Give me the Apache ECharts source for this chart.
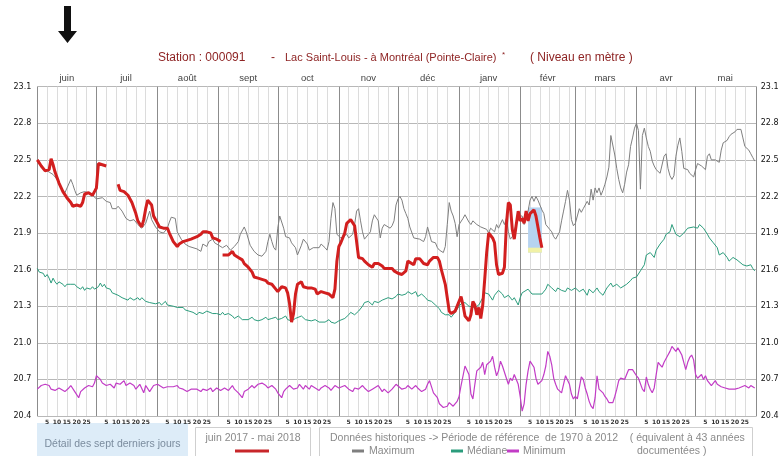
<!DOCTYPE html>
<html><head><meta charset="utf-8">
<script src="https://cdn.jsdelivr.net/npm/echarts@6/dist/echarts.min.js"></script>
<style>html,body{margin:0;padding:0;background:#fff}#c{width:782px;height:456px}</style>
</head><body><div id="c"></div>
<script>
// ---- categories / ticks ----
const monthNames = ['juin','juil','août','sept','oct','nov','déc','janv','févr','mars','avr','mai'];
const monthLengths = [30,31,31,30,31,30,31,31,28,31,30,31];
const dayTickLabels = [5,10,15,20,25];
const yMin = 20.4, yMax = 23.1, yStep = 0.3;

// ---- juin 2017 - mai 2018 (current year, day index from 1 June) ----
const currentSeg1 = [[0,22.50],[2,22.45],[4,22.41],[6,22.42],[7,22.51],[8,22.46],[9,22.40],[11,22.31],[13,22.24],[15,22.19],[17,22.15],[18,22.12],[20,22.13],[22,22.12],[23,22.15],[24,22.22],[26,22.23],[28,22.21],[29,22.24],[30,22.27],[31,22.47],[32,22.48],[33,22.46],[35,22.45]];
const currentSeg2 = [[41,22.30],[42,22.25],[44,22.24],[46,22.21],[48,22.15],[50,22.06],[51,22.00],[53,21.95],[54,22.01],[55,22.10],[56,22.17],[58,22.13],[59,22.04],[61,21.98],[62,21.95],[64,21.94],[66,21.94],[67,21.90],[69,21.83],[71,21.79],[72,21.81],[74,21.83],[76,21.84],[78,21.85],[79,21.86],[81,21.87],[83,21.89],[84,21.91],[86,21.91],[88,21.90],[89,21.86],[91,21.85],[93,21.83]];
const currentSeg3 = [[94,21.72],[97,21.72],[99,21.75],[100,21.72],[102,21.70],[104,21.68],[105,21.65],[107,21.62],[109,21.58],[110,21.54],[112,21.53],[114,21.52],[116,21.51],[117,21.49],[119,21.48],[121,21.44],[122,21.42],[124,21.46],[126,21.45],[127,21.41],[128,21.32],[129,21.17],[130,21.24],[131,21.40],[132,21.48],[134,21.50],[135,21.46],[137,21.45],[139,21.45],[141,21.44],[142,21.40],[144,21.42],[146,21.41],[148,21.40],[150,21.37],[151,21.44],[152,21.67],[153,21.79],[154,21.82],[156,21.90],[157,21.98],[159,22.01],[160,22.00],[161,21.96],[162,21.83],[163,21.70],[165,21.69],[166,21.67],[168,21.64],[170,21.62],[171,21.65],[173,21.65],[175,21.63],[176,21.61],[178,21.61],[180,21.61],[181,21.59],[183,21.57],[185,21.56],[187,21.59],[188,21.67],[189,21.67],[191,21.64],[192,21.69],[194,21.69],[196,21.65],[198,21.64],[199,21.67],[201,21.70],[203,21.70],[204,21.67],[205,21.60],[207,21.48],[208,21.37],[209,21.26],[210,21.24],[212,21.26],[213,21.25],[214,21.34],[215,21.38],[216,21.31],[217,21.22],[219,21.18],[220,21.23],[221,21.34],[222,21.31],[223,21.23],[224,21.29],[225,21.20],[226,21.31],[227,21.52],[228,21.74],[229,21.90],[230,21.90],[231,21.86],[232,21.82],[233,21.64],[234,21.56],[235,21.55],[236,21.57],[237,21.62],[238,21.97],[239,22.15],[240,22.13],[241,21.93],[242,21.85],[243,21.97],[244,22.08],[245,22.00],[246,22.02],[247,21.98],[248,22.08],[249,22.00],[250,22.06],[251,22.05],[252,22.09],[253,22.04],[254,21.95],[255,21.86],[256,21.78]];

// ---- Détail des sept derniers jours ----
const detailDays = [249, 256];
const detailRange = [21.74, 22.11];
const detailYellowTop = 21.78;

// ---- historical 1970-2012 ----
const maxLevel = [[0,22.50],[2,22.45],[4,22.42],[6,22.40],[8,22.38],[10,22.34],[12,22.27],[14,22.23],[15,22.24],[17,22.34],[18,22.30],[19,22.25],[20,22.21],[22,22.23],[24,22.24],[26,22.23],[28,22.21],[30,22.18],[31,22.17],[33,22.19],[35,22.16],[37,22.15],[38,22.10],[40,22.10],[41,22.12],[43,22.08],[45,22.02],[47,22.00],[49,22.01],[51,21.97],[53,21.94],[55,21.98],[57,22.08],[58,22.01],[60,21.95],[62,21.91],[64,21.90],[66,21.94],[67,21.99],[68,22.03],[70,22.02],[71,21.91],[73,21.85],[75,21.81],[77,21.79],[79,21.78],[81,21.77],[83,21.75],[84,21.81],[86,21.79],[87,21.83],[89,21.85],[90,21.82],[92,21.80],[94,21.78],[96,21.80],[98,21.76],[100,21.79],[102,21.83],[103,21.89],[105,21.95],[106,21.91],[108,21.80],[110,21.75],[112,21.72],[114,21.71],[116,21.75],[117,21.83],[118,21.89],[119,21.83],[120,21.78],[121,21.76],[122,21.94],[123,22.04],[125,21.94],[126,21.87],[128,21.86],[129,21.82],[131,21.78],[132,21.72],[134,21.80],[135,21.85],[137,21.81],[138,21.76],[140,21.78],[141,21.79],[143,21.78],[144,21.81],[146,21.78],[147,21.76],[148,21.83],[149,22.02],[150,22.15],[151,22.10],[152,21.89],[154,21.86],[155,21.87],[157,21.89],[158,21.86],[160,21.89],[161,21.97],[162,22.08],[163,22.10],[164,22.00],[165,21.91],[166,21.85],[168,21.89],[169,21.91],[170,22.00],[171,22.05],[172,22.06],[173,22.00],[174,21.86],[175,21.94],[176,21.97],[177,21.96],[179,21.94],[180,21.96],[181,22.00],[182,22.13],[183,22.18],[184,22.20],[185,22.17],[186,22.10],[187,22.06],[188,22.02],[189,21.95],[191,21.86],[192,21.85],[194,21.85],[196,21.83],[197,21.87],[198,21.95],[199,21.89],[200,21.83],[202,21.82],[203,21.78],[204,21.76],[206,21.74],[207,21.79],[208,21.97],[209,22.15],[210,22.08],[211,22.04],[212,21.98],[213,21.87],[214,21.97],[215,21.98],[216,22.02],[217,22.05],[219,21.99],[220,21.97],[221,22.00],[223,21.97],[225,21.95],[226,21.94],[228,21.93],[229,21.90],[230,21.94],[232,21.91],[233,21.97],[234,21.94],[236,22.01],[237,21.97],[238,22.02],[239,21.91],[240,21.85],[241,21.87],[243,21.97],[244,22.04],[245,22.05],[246,22.04],[247,21.97],[249,22.08],[250,22.17],[251,22.20],[252,22.16],[253,22.20],[254,22.17],[256,22.09],[257,22.06],[258,21.97],[260,21.93],[261,21.91],[262,21.87],[263,21.85],[265,21.91],[266,22.00],[267,22.08],[268,22.16],[269,22.25],[270,22.17],[271,22.01],[272,21.96],[273,21.98],[274,22.04],[275,22.10],[276,22.07],[277,22.10],[278,22.09],[279,22.16],[280,22.13],[281,22.26],[282,22.17],[283,22.27],[284,22.23],[285,22.27],[286,22.21],[287,22.25],[288,22.30],[289,22.36],[290,22.44],[291,22.70],[292,22.71],[293,22.54],[294,22.43],[295,22.34],[296,22.27],[297,22.23],[298,22.30],[299,22.40],[300,22.46],[301,22.61],[302,22.68],[303,22.76],[304,22.80],[305,22.74],[306,22.26],[307,22.70],[308,22.76],[309,22.68],[310,22.61],[311,22.57],[312,22.49],[313,22.45],[314,22.42],[315,22.41],[316,22.39],[317,22.38],[318,22.53],[319,22.55],[320,22.43],[321,22.37],[322,22.34],[323,22.37],[324,22.53],[325,22.62],[326,22.68],[327,22.57],[328,22.43],[329,22.42],[330,22.42],[331,22.39],[332,22.39],[333,22.36],[334,22.42],[335,22.47],[336,22.48],[337,22.45],[338,22.46],[339,22.42],[340,22.53],[341,22.55],[342,22.50],[343,22.49],[344,22.50],[345,22.49],[346,22.48],[347,22.58],[348,22.64],[349,22.65],[350,22.66],[351,22.69],[352,22.71],[353,22.70],[354,22.73],[355,22.75],[356,22.76],[357,22.75],[358,22.68],[359,22.61],[360,22.60],[361,22.58],[362,22.55],[363,22.52],[364,22.49]];
const medianLevel = [[0,21.61],[1,21.58],[3,21.57],[4,21.54],[5,21.56],[6,21.53],[7,21.49],[8,21.53],[9,21.50],[10,21.48],[11,21.50],[13,21.48],[14,21.46],[15,21.48],[17,21.48],[18,21.49],[19,21.48],[20,21.46],[22,21.44],[23,21.46],[24,21.43],[25,21.45],[27,21.44],[28,21.46],[29,21.44],[31,21.46],[32,21.49],[33,21.46],[34,21.48],[35,21.45],[37,21.44],[38,21.41],[39,21.42],[41,21.39],[42,21.40],[43,21.37],[44,21.38],[46,21.35],[47,21.37],[48,21.36],[49,21.35],[51,21.37],[52,21.35],[53,21.37],[55,21.34],[56,21.35],[57,21.33],[58,21.34],[60,21.32],[61,21.31],[62,21.33],[63,21.31],[65,21.34],[66,21.31],[67,21.31],[69,21.30],[70,21.29],[71,21.29],[72,21.28],[74,21.29],[75,21.27],[76,21.26],[77,21.26],[79,21.25],[80,21.26],[81,21.23],[82,21.25],[84,21.24],[85,21.25],[86,21.26],[87,21.25],[89,21.24],[90,21.23],[91,21.24],[93,21.23],[94,21.25],[95,21.23],[97,21.24],[99,21.22],[100,21.20],[102,21.22],[104,21.19],[105,21.20],[107,21.19],[109,21.21],[110,21.19],[112,21.18],[114,21.19],[116,21.21],[117,21.19],[119,21.20],[121,21.21],[122,21.19],[124,21.20],[126,21.22],[127,21.19],[129,21.18],[131,21.20],[132,21.19],[134,21.22],[136,21.19],[137,21.20],[139,21.18],[141,21.19],[143,21.17],[144,21.18],[146,21.17],[148,21.19],[149,21.17],[151,21.16],[153,21.18],[154,21.19],[156,21.20],[158,21.23],[159,21.25],[161,21.23],[163,21.26],[165,21.30],[166,21.33],[168,21.34],[170,21.31],[171,21.34],[173,21.33],[175,21.35],[176,21.34],[178,21.37],[180,21.36],[182,21.38],[183,21.40],[185,21.39],[187,21.40],[188,21.42],[190,21.40],[192,21.42],[193,21.38],[195,21.40],[197,21.37],[198,21.35],[200,21.34],[202,21.31],[204,21.28],[205,21.25],[207,21.23],[209,21.23],[210,21.21],[212,21.25],[214,21.30],[215,21.32],[217,21.33],[219,21.30],[220,21.31],[222,21.29],[224,21.31],[226,21.37],[227,21.41],[229,21.40],[231,21.35],[232,21.39],[234,21.43],[236,21.40],[237,21.37],[239,21.39],[241,21.35],[242,21.37],[244,21.31],[245,21.37],[246,21.41],[247,21.40],[249,21.44],[251,21.40],[253,21.40],[254,21.41],[256,21.40],[258,21.44],[259,21.48],[261,21.45],[263,21.42],[264,21.45],[266,21.43],[268,21.42],[269,21.45],[271,21.43],[273,21.45],[274,21.46],[275,21.42],[277,21.44],[279,21.39],[280,21.44],[282,21.41],[284,21.45],[285,21.42],[287,21.39],[289,21.45],[291,21.49],[292,21.46],[294,21.48],[296,21.45],[297,21.46],[299,21.48],[301,21.51],[302,21.53],[304,21.54],[306,21.59],[308,21.64],[309,21.72],[311,21.74],[313,21.70],[314,21.76],[316,21.81],[318,21.85],[319,21.89],[321,21.91],[322,21.97],[323,21.93],[324,21.89],[326,21.87],[328,21.90],[330,21.94],[331,21.93],[333,21.95],[335,21.94],[336,21.97],[338,21.94],[340,21.89],[341,21.86],[343,21.82],[345,21.78],[346,21.72],[348,21.74],[350,21.70],[351,21.67],[353,21.70],[355,21.68],[356,21.67],[358,21.64],[360,21.63],[362,21.64],[363,21.61],[364,21.59]];
const minLevel = [[0,20.62],[2,20.65],[4,20.66],[6,20.65],[7,20.62],[9,20.61],[11,20.63],[12,20.62],[14,20.60],[16,20.63],[17,20.65],[19,20.60],[21,20.55],[22,20.60],[24,20.63],[26,20.65],[28,20.64],[29,20.67],[30,20.73],[32,20.70],[33,20.67],[35,20.65],[37,20.66],[39,20.63],[40,20.67],[42,20.66],[44,20.69],[45,20.65],[47,20.67],[49,20.65],[50,20.62],[52,20.66],[54,20.59],[55,20.65],[57,20.60],[59,20.65],[61,20.66],[62,20.65],[64,20.63],[66,20.64],[67,20.63],[69,20.64],[71,20.65],[72,20.63],[74,20.62],[76,20.60],[78,20.62],[79,20.63],[81,20.62],[83,20.60],[84,20.62],[86,20.61],[88,20.63],[89,20.60],[91,20.63],[93,20.61],[94,20.60],[95,20.63],[97,20.61],[99,20.65],[100,20.62],[102,20.59],[104,20.55],[105,20.60],[107,20.62],[109,20.65],[110,20.63],[112,20.66],[114,20.67],[116,20.65],[117,20.63],[119,20.65],[121,20.62],[122,20.59],[124,20.55],[125,20.60],[126,20.62],[128,20.65],[130,20.62],[132,20.63],[133,20.66],[135,20.62],[136,20.65],[138,20.62],[139,20.65],[141,20.63],[143,20.61],[144,20.63],[146,20.65],[148,20.63],[149,20.61],[151,20.65],[153,20.63],[154,20.62],[156,20.65],[158,20.62],[160,20.60],[161,20.63],[163,20.62],[165,20.65],[166,20.63],[168,20.60],[170,20.62],[171,20.63],[173,20.65],[175,20.60],[176,20.62],[178,20.59],[180,20.62],[182,20.66],[183,20.67],[185,20.62],[187,20.63],[188,20.65],[190,20.62],[192,20.65],[193,20.63],[195,20.60],[197,20.62],[198,20.66],[199,20.69],[201,20.59],[203,20.55],[204,20.50],[206,20.47],[208,20.48],[209,20.51],[211,20.48],[213,20.52],[214,20.56],[215,20.65],[217,20.81],[218,20.80],[219,20.74],[220,20.58],[221,20.54],[222,20.66],[223,20.77],[225,20.80],[226,20.84],[227,20.74],[228,20.82],[230,20.85],[231,20.89],[232,20.80],[233,20.73],[234,20.77],[235,20.85],[236,20.81],[238,20.71],[239,20.66],[240,20.71],[241,20.69],[242,20.74],[244,20.66],[245,20.56],[246,20.44],[247,20.50],[248,20.66],[249,20.77],[250,20.85],[252,20.80],[253,20.71],[254,20.66],[256,20.69],[257,20.74],[258,20.81],[259,20.93],[260,20.89],[261,20.82],[262,20.71],[263,20.66],[264,20.62],[266,20.59],[267,20.66],[268,20.73],[269,20.74],[270,20.66],[271,20.58],[272,20.54],[273,20.56],[274,20.54],[275,20.63],[276,20.72],[277,20.70],[278,20.63],[279,20.58],[280,20.52],[281,20.48],[282,20.46],[283,20.55],[284,20.73],[285,20.62],[286,20.62],[287,20.59],[288,20.56],[289,20.54],[290,20.51],[291,20.50],[292,20.51],[293,20.56],[294,20.62],[295,20.69],[296,20.71],[297,20.70],[298,20.70],[299,20.74],[300,20.78],[301,20.78],[302,20.78],[303,20.77],[304,20.73],[305,20.71],[306,20.70],[307,20.62],[308,20.60],[309,20.72],[310,20.66],[311,20.62],[312,20.59],[313,20.63],[314,20.74],[315,20.84],[316,20.82],[317,20.80],[318,20.84],[319,20.83],[320,20.90],[321,20.93],[322,20.97],[323,20.96],[324,20.93],[325,20.96],[326,20.93],[327,20.90],[328,20.84],[329,20.78],[330,20.84],[331,20.88],[332,20.90],[333,20.86],[334,20.74],[335,20.71],[336,20.72],[337,20.74],[338,20.70],[339,20.73],[340,20.69],[341,20.70],[342,20.65],[343,20.67],[344,20.69],[345,20.66],[346,20.67],[347,20.64],[348,20.65],[349,20.63],[351,20.62],[352,20.61],[354,20.62],[356,20.63],[357,20.63],[359,20.65],[361,20.63],[362,20.65],[364,20.63]];

// ---- build day categories (index 0 = 1 June, last = boundary 1 June next year) ----
const cats = [];
monthLengths.forEach((len, m) => { for (let d = 0; d < len; d++) cats.push({m: m, off: d}); });
cats.push({m: monthLengths.length, off: 0});
const catNames = cats.map((c, i) => String(i));
const totalDays = cats.length - 1;

const FONT = '"Liberation Sans", Arial, sans-serif';
const chart = echarts.init(document.getElementById('c'), null, {renderer: 'canvas'});

function lineSeries(data, color, width, z) {
  return {type: 'line', xAxisIndex: 0, yAxisIndex: 0, data: data, symbol: 'none', showSymbol: false,
          lineStyle: {color: color, width: width}, z: z, silent: true, connectNulls: false};
}
const RED = '#d21f1f';

chart.setOption({
  animation: false,
  backgroundColor: '#ffffff',
  grid: {left: 37.3, right: 25.3, top: 86.7, bottom: 40, containLabel: false},
  xAxis: [
    {type: 'value', min: 0, max: totalDays, show: false},
    {type: 'category', data: catNames, boundaryGap: false, position: 'bottom',
     axisLine: {show: false}, axisTick: {show: false},
     axisLabel: {show: true, margin: 3, fontSize: 6, fontWeight: 'bold', color: '#333', fontFamily: '"DejaVu Sans", sans-serif',
       interval: (i) => cats[i].m < 12 && dayTickLabels.indexOf(cats[i].off) >= 0,
       formatter: (v, i) => String(cats[+v].off)},
     splitLine: {show: true, lineStyle: {color: '#dcdcdc', width: 1},
       interval: (i) => cats[i].m < 12 && dayTickLabels.indexOf(cats[i].off) >= 0}},
    {type: 'category', data: catNames, boundaryGap: false, position: 'top',
     axisLine: {show: false}, axisTick: {show: false},
     axisLabel: {show: true, margin: 3, fontSize: 9.5, color: '#444', fontFamily: FONT,
       interval: (i) => cats[i].m < 12 && cats[i].off === Math.floor(monthLengths[cats[i].m] / 2),
       formatter: (v) => monthNames[cats[+v].m]},
     splitLine: {show: true, lineStyle: {color: '#8c8c8c', width: 1},
       interval: (i) => cats[i].off === 0}}
  ],
  yAxis: [
    {type: 'value', min: yMin, max: yMax, interval: yStep, position: 'left',
     axisLine: {show: false}, axisTick: {show: false},
     axisLabel: {margin: 6, fontSize: 8, color: '#111', fontFamily: '"DejaVu Sans", sans-serif', formatter: (v) => v.toFixed(1)},
     splitLine: {show: true, lineStyle: {color: '#b8b8b8', width: 1}}},
    {type: 'value', min: yMin, max: yMax, interval: yStep, position: 'right',
     axisLine: {show: false}, axisTick: {show: false},
     axisLabel: {margin: 4, fontSize: 8, color: '#111', fontFamily: '"DejaVu Sans", sans-serif', formatter: (v) => v.toFixed(1)},
     splitLine: {show: false}}
  ],
  series: [
    {type: 'line', xAxisIndex: 0, yAxisIndex: 0, data: [], z: 1, silent: true,
     markArea: {silent: true, data: [
       [{xAxis: detailDays[0], yAxis: detailRange[1], itemStyle: {color: '#b6d3f0'}}, {xAxis: detailDays[1], yAxis: detailRange[0]}],
       [{xAxis: detailDays[0], yAxis: detailYellowTop, itemStyle: {color: '#f1f1a6'}}, {xAxis: detailDays[1], yAxis: detailRange[0]}]
     ]}},
    lineSeries(maxLevel, '#7f7f7f', 1, 3),
    lineSeries(medianLevel, '#2b9c7c', 1, 3),
    lineSeries(minLevel, '#c23cc6', 1.2, 3),
    lineSeries(currentSeg1, RED, 3, 5),
    lineSeries(currentSeg2, RED, 3, 5),
    lineSeries(currentSeg3, RED, 3, 5)
  ],
  graphic: [
    {type: 'polygon', shape: {points: [[64,6],[71,6],[71,31],[77,31],[67.5,43],[58,31],[64,31]]}, style: {fill: '#111'}},
    {type: 'text', style: {text: 'Station : 000091', x: 158, y: 58, font: '12px ' + FONT, fill: '#8e2424', textVerticalAlign: 'middle'}},
    {type: 'text', style: {text: '-', x: 271, y: 58, font: '12px ' + FONT, fill: '#8e2424', textVerticalAlign: 'middle'}},
    {type: 'text', style: {text: 'Lac Saint-Louis - à Montréal (Pointe-Claire)', x: 285, y: 58, font: '11px ' + FONT, fill: '#8e2424', textVerticalAlign: 'middle'}},
    {type: 'text', style: {text: '*', x: 502, y: 55, font: '8px ' + FONT, fill: '#8e2424', textVerticalAlign: 'middle'}},
    {type: 'text', style: {text: '( Niveau en mètre )', x: 530, y: 58, font: '12px ' + FONT, fill: '#8e2424', textVerticalAlign: 'middle'}},
    // bottom legend
    {type: 'rect', shape: {x: 37, y: 423, width: 151, height: 40}, style: {fill: '#ddecf8'}},
    {type: 'text', style: {text: 'Détail des sept derniers jours', x: 112.5, y: 444, font: '10.5px ' + FONT, fill: '#7b8c9e', textAlign: 'center', textVerticalAlign: 'middle'}},
    {type: 'rect', shape: {x: 195.5, y: 427.5, width: 115, height: 40}, style: {fill: '#fff', stroke: '#cfcfcf', lineWidth: 1}},
    {type: 'text', style: {text: 'juin 2017 - mai 2018', x: 253, y: 438, font: '10.5px ' + FONT, fill: '#8a8a8a', textAlign: 'center', textVerticalAlign: 'middle'}},
    {type: 'line', shape: {x1: 235, y1: 451, x2: 269, y2: 451}, style: {stroke: '#c8262a', lineWidth: 3}},
    {type: 'rect', shape: {x: 319.5, y: 427.5, width: 433, height: 40}, style: {fill: '#fff', stroke: '#cfcfcf', lineWidth: 1}},
    {type: 'text', style: {text: 'Données historiques -> Période de référence  de 1970 à 2012    ( équivalent à 43 années', x: 330, y: 438, font: '10.5px ' + FONT, fill: '#8a8a8a', textVerticalAlign: 'middle'}},
    {type: 'line', shape: {x1: 352, y1: 451, x2: 364, y2: 451}, style: {stroke: '#7f7f7f', lineWidth: 3}},
    {type: 'text', style: {text: 'Maximum', x: 369, y: 451, font: '10.5px ' + FONT, fill: '#8a8a8a', textVerticalAlign: 'middle'}},
    {type: 'line', shape: {x1: 451, y1: 451, x2: 463, y2: 451}, style: {stroke: '#2b9c7c', lineWidth: 3}},
    {type: 'text', style: {text: 'Médiane', x: 467, y: 451, font: '10.5px ' + FONT, fill: '#8a8a8a', textVerticalAlign: 'middle'}},
    {type: 'line', shape: {x1: 507, y1: 451, x2: 519, y2: 451}, style: {stroke: '#c23cc6', lineWidth: 3}},
    {type: 'text', style: {text: 'Minimum', x: 523, y: 451, font: '10.5px ' + FONT, fill: '#8a8a8a', textVerticalAlign: 'middle'}},
    {type: 'text', style: {text: 'documentées )', x: 637, y: 451, font: '10.5px ' + FONT, fill: '#8a8a8a', textVerticalAlign: 'middle'}}
  ]
});
</script>
</body></html>
